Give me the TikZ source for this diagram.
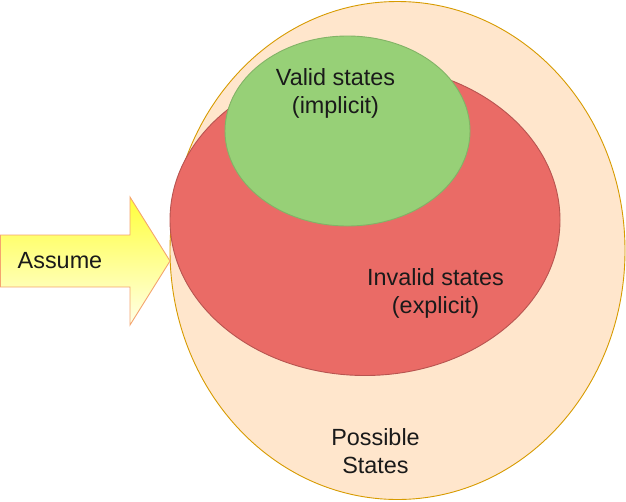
\documentclass[tikz,border=0pt]{standalone}
\usepackage{fontspec}
\setmainfont{Liberation Sans}
\definecolor{peachfill}{HTML}{FFE6CC}
\definecolor{peachline}{HTML}{D79B00}
\definecolor{redfill}{HTML}{EA6B66}
\definecolor{redline}{HTML}{B85450}
\definecolor{greenfill}{HTML}{97D077}
\definecolor{greenline}{HTML}{82B366}
\definecolor{arrowline}{HTML}{F4A46E}
\definecolor{arrowtop}{HTML}{FFFF3A}
\definecolor{arrowbot}{HTML}{FFFFE8}
\definecolor{txt}{HTML}{1A1A1A}
\tikzset{
  blob/.style={ellipse, line width=0.9pt, inner sep=0pt},
  lbl/.style={font=\fontsize{23.4}{27.5}\selectfont, text=txt, align=center, inner sep=0pt},
}
\usetikzlibrary{shapes.geometric}
\begin{document}
\begin{tikzpicture}[x=1pt,y=-1pt]
\useasboundingbox (0,0) rectangle (626,501);
% possible states
\node[blob, draw=peachline, fill=peachfill, minimum width=455pt, minimum height=498pt] (poss) at (397.5,250.5) {};
% invalid
\node[blob, draw=redline, fill=redfill, minimum width=390pt, minimum height=311pt] (inv) at (365,220) {};
% valid
\node[blob, draw=greenline, fill=greenfill, minimum width=245pt, minimum height=190pt] (val) at (347.5,131) {};
% arrow
\draw[arrowline, line width=0.9pt, top color=arrowtop, bottom color=arrowbot]
  (0.5,235) -- (130,235) -- (130,197) -- (170,261) -- (130,325) -- (130,287) -- (0.5,287) -- cycle;
\node[lbl, anchor=base] (assume) at (60,268) {Assume};
\node[lbl, anchor=base] (tval) at (335.5,113) {Valid states\\(implicit)};
\node[lbl, anchor=base] (tinv) at (435.5,313) {Invalid states\\(explicit)};
\node[lbl, anchor=base] (tposs) at (375.5,473) {Possible\\States};
\end{tikzpicture}
\end{document}
